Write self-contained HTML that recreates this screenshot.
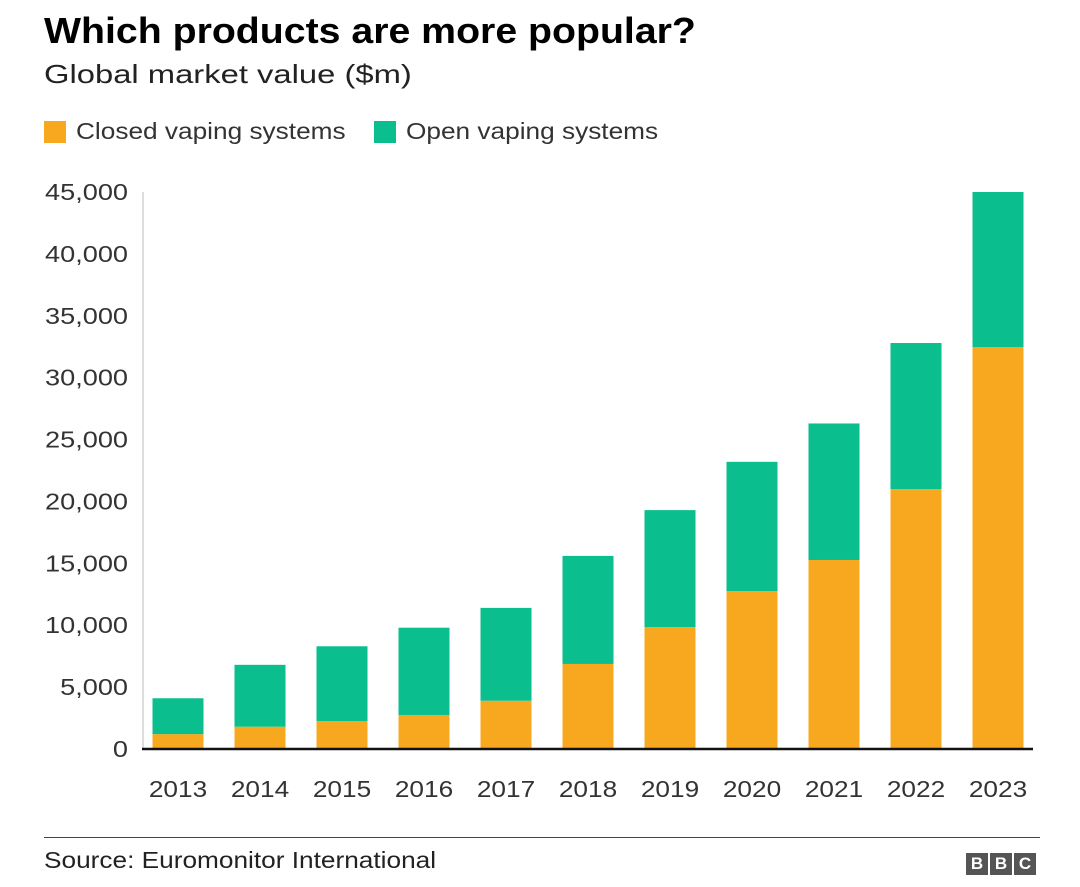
<!DOCTYPE html>
<html><head><meta charset="utf-8"><style>
body{margin:0;background:#fff;font-family:"Liberation Sans",sans-serif;}
#w{position:relative;width:1080px;height:887px;overflow:hidden;}
.t{position:absolute;white-space:nowrap;color:#222;transform-origin:0 0;}
</style></head><body><div id="w">
<div class="t" style="left:44px;top:10px;font-size:36px;font-weight:bold;color:#000;transform:scaleX(1.09)">Which products are more popular?</div>
<div class="t" style="left:44px;top:59px;font-size:26px;transform:scaleX(1.26)">Global market value ($m)</div>
<div style="position:absolute;left:44px;top:121px;width:22px;height:22px;background:#f8a81e"></div>
<div class="t" style="left:76px;top:118px;font-size:23px;color:#333;transform:scaleX(1.14)">Closed vaping systems</div>
<div style="position:absolute;left:374px;top:121px;width:22px;height:22px;background:#0abf8d"></div>
<div class="t" style="left:406px;top:118px;font-size:23px;color:#333;transform:scaleX(1.14)">Open vaping systems</div>
<svg id="c" width="1080" height="887" style="position:absolute;left:0;top:0"></svg>
<div style="position:absolute;left:44px;top:837px;width:996px;height:1px;background:#444"></div>
<div class="t" style="left:44px;top:847px;font-size:23px;color:#222;transform:scaleX(1.14)">Source: Euromonitor International</div>
<div style="position:absolute;left:966px;top:853px;display:flex;gap:2px">
<span style="width:22px;height:22px;background:#555;color:#fff;font:bold 17px 'Liberation Sans';text-align:center;line-height:22px">B</span>
<span style="width:22px;height:22px;background:#555;color:#fff;font:bold 17px 'Liberation Sans';text-align:center;line-height:22px">B</span>
<span style="width:22px;height:22px;background:#555;color:#fff;font:bold 17px 'Liberation Sans';text-align:center;line-height:22px">C</span>
</div>
</div>
<script>
const years=["2013","2014","2015","2016","2017","2018","2019","2020","2021","2022","2023"];
const closed=[1200,1800,2260,2750,3900,6870,9850,12760,15270,21000,32470];
const totals=[4100,6800,8300,9800,11400,15600,19300,23200,26300,32800,45000];
const yTicks=[0,5000,10000,15000,20000,25000,30000,35000,40000,45000];
const NS="http://www.w3.org/2000/svg",svg=document.getElementById('c');
const y=v=>749-v*(557/45000);
const x=i=>178+i*82;
function mk(t,a){const e=document.createElementNS(NS,t);for(const k in a)e.setAttribute(k,a[k]);svg.appendChild(e);return e;}
let ax=mk('line',{x1:143,x2:143,y1:192,y2:749,stroke:'#ddd','stroke-width':2});


yTicks.forEach(v=>{const t=mk('text',{x:0,y:0,transform:'translate(128,'+(y(v)+8)+') scale(1.18,1)','text-anchor':'end','font-size':23,fill:'#333','font-family':'Liberation Sans'});t.textContent=v.toLocaleString('en-US');

});
years.forEach((yr,i)=>{
const open=totals[i]-closed[i];
const a=mk('rect',{x:x(i)-25.5,y:y(closed[i]),width:51,height:y(0)-y(closed[i]),fill:'#f8a81e'});


const b=mk('rect',{x:x(i)-25.5,y:y(closed[i]+open),width:51,height:y(closed[i])-y(closed[i]+open),fill:'#0abf8d'});


const t=mk('text',{x:0,y:0,transform:'translate('+x(i)+',797) scale(1.14,1)','text-anchor':'middle','font-size':23,fill:'#333','font-family':'Liberation Sans'});t.textContent=yr;


});
const bl=mk('line',{x1:142,x2:1033,y1:749,y2:749,stroke:'#111','stroke-width':2.5});


</script></body></html>
